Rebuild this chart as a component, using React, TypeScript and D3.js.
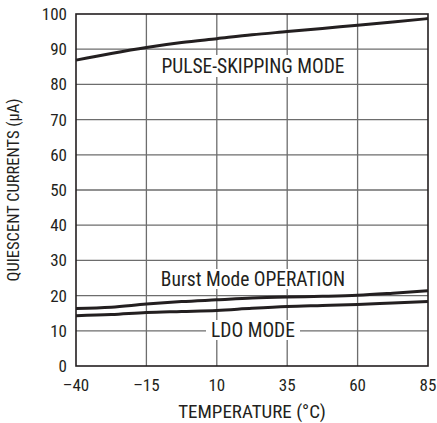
import React from "react";
import * as d3 from "d3";

const temps = [-40, -27.5, -15, -2.5, 10, 22.5, 35, 47.5, 60, 72.5, 85];
const pulseSkipping = [86.9, 88.8, 90.5, 91.9, 93.0, 94.1, 95.0, 95.9, 96.8, 97.7, 98.7];
const burstMode = [16.3, 16.7, 17.6, 18.3, 18.8, 19.3, 19.6, 19.8, 20.1, 20.7, 21.4];
const ldoMode = [14.3, 14.6, 15.2, 15.5, 15.8, 16.4, 16.9, 17.2, 17.5, 17.9, 18.3];
const xTicks = [-40, -15, 10, 35, 60, 85];
const xTickLabels = ["–40", "–15", "10", "35", "60", "85"];
const yTicks = [0, 10, 20, 30, 40, 50, 60, 70, 80, 90, 100];

const FONT = "'Liberation Sans Narrow', 'Roboto Condensed', 'Arial Narrow', 'Liberation Sans', sans-serif";

export default function App() {
  const W = 437, H = 423;
  const L = 76, R = 428, T = 14, B = 366;
  const x = d3.scaleLinear().domain([-40, 85]).range([L, R]);
  const y = d3.scaleLinear().domain([0, 100]).range([B, T]);
  const line = d3.line<number>().x((_, i) => x(temps[i])).y((v) => y(v)).curve(d3.curveMonotoneX);
  const cx = (L + R) / 2;
  const ink = "#231f20";
  const grid = "#6d6d6d";
  return (
    <svg width={W} height={H} style={{ position: "absolute", left: 0, top: 0, background: "#fff" }} fontFamily={FONT}>
      <rect x={0} y={0} width={W} height={H} fill="#fff" />
      {yTicks.slice(1, -1).map((t) => (
        <line key={"gy" + t} x1={L} x2={R} y1={y(t)} y2={y(t)} stroke={grid} strokeWidth={1.3} />
      ))}
      {xTicks.slice(1, -1).map((t) => (
        <line key={"gx" + t} x1={x(t)} x2={x(t)} y1={T} y2={B} stroke={grid} strokeWidth={1.3} />
      ))}
      <rect x={157} y={55} width={194} height={22} fill="#fff" />
      <rect x={159} y={269} width={190} height={20} fill="#fff" />
      <rect x={206} y={320} width={94} height={20} fill="#fff" />
      <rect x={L} y={T} width={R - L} height={B - T} fill="none" stroke={ink} strokeWidth={1.6} />
      <path d={line(pulseSkipping) || ""} fill="none" stroke={ink} strokeWidth={3} />
      <path d={line(burstMode) || ""} fill="none" stroke={ink} strokeWidth={3} />
      <path d={line(ldoMode) || ""} fill="none" stroke={ink} strokeWidth={3} />
      <g fill={ink} fontSize={17}>
        {yTicks.map((t) => (
          <text key={"ty" + t} x={L - 9} y={y(t)} textAnchor="end" dominantBaseline="central">{t}</text>
        ))}
        {xTicks.map((t, i) => (
          <text key={"tx" + t} x={x(t)} y={385} textAnchor="middle" dominantBaseline="central">{xTickLabels[i]}</text>
        ))}
        <g fontSize={19.5}>
          <text x={cx + 1} y={66} textAnchor="middle" dominantBaseline="central">PULSE-SKIPPING MODE</text>
          <text x={cx + 1} y={279} textAnchor="middle" dominantBaseline="central">Burst Mode OPERATION</text>
          <text x={cx + 1} y={330} textAnchor="middle" dominantBaseline="central">LDO MODE</text>
        </g>
        <text x={cx} y={411} textAnchor="middle" dominantBaseline="central" fontSize={19}>TEMPERATURE (°C)</text>
        <text transform={`translate(13,190) rotate(-90)`} textAnchor="middle" dominantBaseline="central" fontSize={16.5}>QUIESCENT CURRENTS (µA)</text>
      </g>
    </svg>
  );
}
